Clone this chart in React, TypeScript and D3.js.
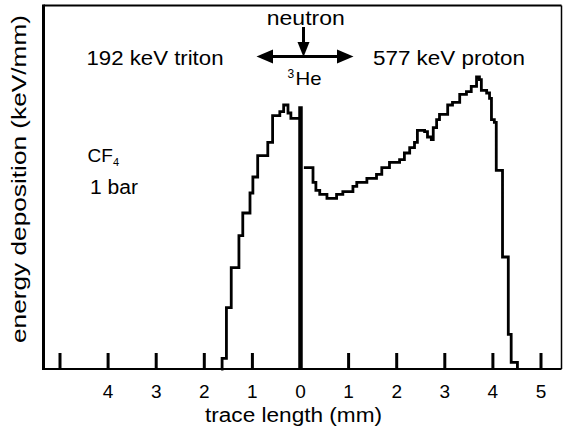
import React from "react";
import * as d3 from "d3";

// x in mm (negative = triton side), y in keV/mm (relative)
const xTickValues = [-5, -4, -3, -2, -1, 0, 1, 2, 3, 4, 5];
const xTickLabels = ["", "4", "3", "2", "1", "0", "1", "2", "3", "4", "5"];

const tritonX = [-1.65, -1.63, -1.54, -1.44, -1.28, -1.2, -1.05, -0.99, -0.89, -0.68, -0.58, -0.43, -0.35, -0.26, -0.2, 0.0];
const tritonY = [0, 8, 46, 76, 100, 117, 132, 144, 160, 170, 190, 193, 198, 192, 188, 188];

const centerBarTop = 197;

const protonX = [0.07, 0.26, 0.32, 0.4, 0.55, 0.75, 0.88, 1.09, 1.17, 1.38, 1.58, 1.69, 1.85, 2.06, 2.16, 2.27, 2.37, 2.43, 2.58, 2.64, 2.72, 2.76, 2.83, 2.89, 3.06, 3.16, 3.31, 3.45, 3.55, 3.66, 3.72, 3.76, 3.87, 3.93, 3.97, 4.03, 4.07, 4.2, 4.32, 4.38, 4.51];
const protonY = [151, 140, 134, 131, 128, 131, 133, 137, 140, 143, 146, 151, 155, 157, 162, 166, 170, 179, 178, 174, 172, 181, 187, 191, 198, 200, 206, 208, 212, 219, 217, 209, 207, 203, 187, 185, 149, 84, 26, 5, 0];

const FONT = "'Liberation Sans', Arial, Helvetica, sans-serif";

export default function App() {
  const W = 563, H = 430;
  const x = d3.scaleLinear().domain([-5, 5]).range([60, 541]);
  const y = d3.scaleLinear().domain([0, 273]).range([369, 5]);

  const line = d3
    .line<[number, number]>()
    .x((d) => x(d[0]))
    .y((d) => y(d[1]))
    .curve(d3.curveStepAfter);

  const tritonPts: [number, number][] = tritonX.map((v, i) => [v, tritonY[i]]);
  const protonPts: [number, number][] = protonX.map((v, i) => [v, protonY[i]]);

  const left = 43.5, right = 561.5, top = 5.5, bottom = y(0);

  return (
    <svg
      width={W}
      height={H}
      style={{ position: "absolute", left: 0, top: 0, background: "#fff" }}
      fontFamily={FONT}
    >
      <rect x={0} y={0} width={W} height={H} fill="#fff" />
      {/* frame */}
      <line x1={left} x2={right} y1={top} y2={top} stroke="#000" strokeWidth={2} />
      <line x1={left} x2={left} y1={top - 1} y2={bottom + 1} stroke="#000" strokeWidth={3} />
      <line x1={right} x2={right} y1={top} y2={bottom} stroke="#000" strokeWidth={1.5} />
      <line x1={left} x2={right} y1={bottom} y2={bottom} stroke="#000" strokeWidth={2} />

      {/* ticks */}
      {xTickValues.map((v, i) => (
        <g key={i}>
          <line x1={x(v)} x2={x(v)} y1={bottom} y2={bottom - 16} stroke="#000" strokeWidth={3} />
          <text x={x(v)} y={398} fontSize={19} textAnchor="middle" fill="#000">
            {xTickLabels[i]}
          </text>
        </g>
      ))}

      {/* data */}
      <path d={line(tritonPts) || ""} fill="none" stroke="#000" strokeWidth={2.8} strokeLinejoin="miter" />
      <line x1={x(0)} x2={x(0)} y1={y(centerBarTop)} y2={bottom} stroke="#000" strokeWidth={4.5} />
      <path d={line(protonPts) || ""} fill="none" stroke="#000" strokeWidth={2.8} strokeLinejoin="miter" />

      {/* axis titles */}
      <text x={293.5} y={422} fontSize={20} textAnchor="middle" textLength={177} lengthAdjust="spacingAndGlyphs" fill="#000">
        trace length (mm)
      </text>
      <text
        transform="translate(26,179) rotate(-90)"
        fontSize={21}
        textAnchor="middle"
        textLength={328}
        lengthAdjust="spacingAndGlyphs"
        fill="#000"
      >
        energy deposition (keV/mm)
      </text>

      {/* annotations */}
      <text x={305.8} y={25} fontSize={20} textAnchor="middle" textLength={78} lengthAdjust="spacingAndGlyphs" fill="#000">
        neutron
      </text>
      <text x={155} y={65} fontSize={20} textAnchor="middle" textLength={137} lengthAdjust="spacingAndGlyphs" fill="#000">
        192 keV triton
      </text>
      <text x={449} y={65} fontSize={20} textAnchor="middle" textLength={152} lengthAdjust="spacingAndGlyphs" fill="#000">
        577 keV proton
      </text>
      <text x={287.5} y={78} fontSize={12} fill="#000">3</text>
      <text x={295.5} y={85} fontSize={19} textLength={26} lengthAdjust="spacingAndGlyphs" fill="#000">He</text>

      {/* arrows */}
      <line x1={268} x2={342} y1={56.5} y2={56.5} stroke="#000" strokeWidth={3} />
      <path d="M256.5,56.5 L273,49.5 L273,63.5 Z" fill="#000" />
      <path d="M353.5,56.5 L337,49.5 L337,63.5 Z" fill="#000" />
      <line x1={303.5} x2={303.5} y1={27} y2={45} stroke="#000" strokeWidth={3} />
      <path d="M303.5,57 L297.5,42 L309.5,42 Z" fill="#000" />

      {/* gas label */}
      <text x={87.5} y={162} fontSize={19} fill="#000">CF</text>
      <text x={113} y={166} fontSize={11} fill="#000">4</text>
      <text x={90} y={193.5} fontSize={20} textLength={48} lengthAdjust="spacingAndGlyphs" fill="#000">1 bar</text>
    </svg>
  );
}
